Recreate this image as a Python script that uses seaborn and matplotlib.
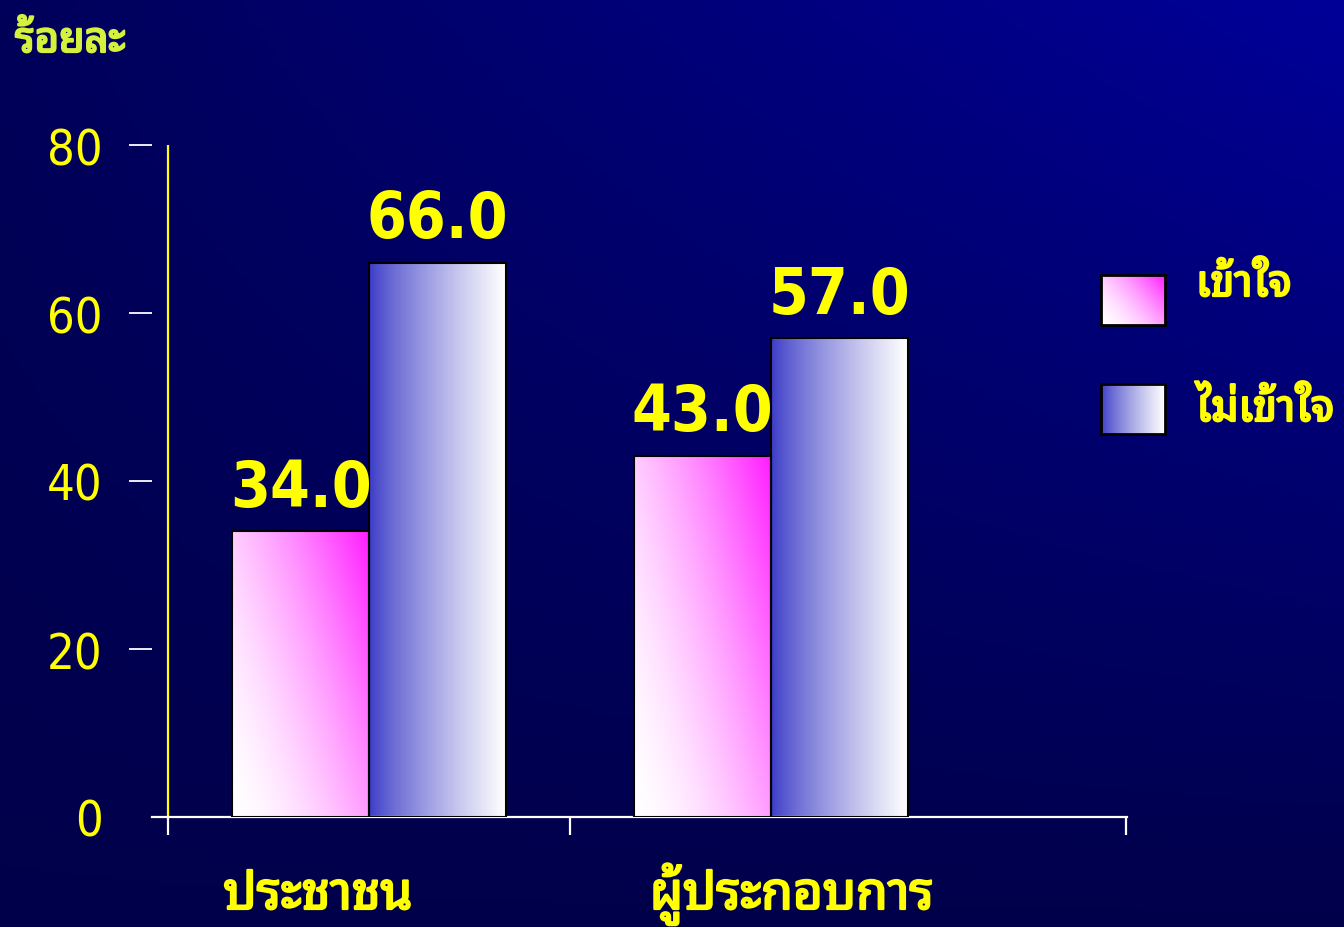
import matplotlib
matplotlib.use("Agg")
import matplotlib.pyplot as plt
import matplotlib.transforms as mtransforms
import matplotlib.patheffects as pe
import seaborn as sns
import pandas as pd
import numpy as np

# data
groups = ["ประชาชน", "ผู้ประกอบการ"]
answers = ["เข้าใจ", "ไม่เข้าใจ"]
understand = [34.0, 43.0]
not_understand = [66.0, 57.0]
y_ticks = [0, 20, 40, 60, 80]
y_title = "ร้อยละ"

df = pd.DataFrame({
    "group": groups * 2,
    "answer": [answers[0]] * 2 + [answers[1]] * 2,
    "pct": understand + not_understand,
})

sns.set_theme(style="white")
thai = ["Noto Sans Thai Looped", "Taviraj", "Sarabun", "DejaVu Sans"]
yellow = "#FFFF00"


def bold_fx(color):
    # the looped Thai face only ships a regular weight here, so thicken it a bit
    return [pe.withStroke(linewidth=1.6, foreground=color)]


def pink_grad(n=80):
    u, v = np.meshgrid(np.linspace(0, 1, n), np.linspace(0, 1, n))
    t = np.clip(0.6 * u + 0.4 * v, 0, 1) ** 1.6
    img = np.ones((n, n, 3))
    img[..., 1] = 1 - 0.88 * t
    return img


def blue_grad(n=80):
    u, v = np.meshgrid(np.linspace(0, 1, n), np.linspace(0, 1, n))
    t = u ** 0.8
    img = np.ones((n, n, 3))
    img[..., 0] = 0.23 + 0.77 * t
    img[..., 1] = 0.23 + 0.77 * t
    img[..., 2] = 0.78 + 0.22 * t
    return img


fig = plt.figure(figsize=(13.44, 9.28), dpi=100)

# background gradient
bg = fig.add_axes([0, 0, 1, 1], zorder=-5)
u, v = np.meshgrid(np.linspace(0, 1, 200), np.linspace(0, 1, 200))
s = 0.8 * u * v + 0.2 * v
bgimg = np.zeros((200, 200, 3))
bgimg[..., 2] = 0.29 + 0.31 * s
bg.imshow(bgimg, origin="lower", aspect="auto", extent=[0, 1, 0, 1])
bg.axis("off")

ax = fig.add_axes([152 / 1344, 110 / 928, 975 / 1344, 672 / 928])
ax.patch.set_alpha(0)

sns.barplot(data=df, x="group", y="pct", hue="answer", order=groups, hue_order=answers,
            width=0.68, dodge=True, legend=False, saturation=1, ax=ax,
            edgecolor="black", linewidth=1.5)

grads = [pink_grad(), blue_grad()]
for cont, g in zip(ax.containers, grads):
    for bar in cont:
        x0, w, h = bar.get_x(), bar.get_width(), bar.get_height()
        bar.set_facecolor("none")
        bar.set_zorder(3)
        ax.imshow(g, origin="lower", aspect="auto", extent=[x0, x0 + w, 0, h], zorder=2)
    ax.bar_label(cont, labels=[f"{b.get_height():.1f}" for b in cont], padding=9,
                 color=yellow, fontsize=46, fontweight="bold", fontstretch="condensed",
                 family="DejaVu Sans", zorder=4)

ax.set_xlim(-0.54, 1.886)
ax.set_ylim(0, 80)
ax.set_xlabel("")
ax.set_ylabel("")

# axes lines
for sp in ["top", "right", "left"]:
    ax.spines[sp].set_visible(False)
ax.spines["bottom"].set_color("white")
ax.spines["bottom"].set_linewidth(1.6)
ax.axvline(-0.5, color=yellow, lw=1.6, zorder=1)

ax.set_yticks(y_ticks)
ax.set_yticklabels([str(t) for t in y_ticks], fontstretch="condensed", family="DejaVu Sans")
ax.tick_params(axis="y", left=True, length=16.5, width=1.3, color="white", pad=19,
               labelsize=35, labelcolor=yellow)
ax.yaxis.get_major_ticks()[0].tick1line.set_visible(False)

ax.set_xticks([])
ax.set_xticks([-0.5, 0.5, 1.884], minor=True)
ax.tick_params(axis="x", which="minor", bottom=True, length=13, width=1.6, color="white",
               direction="out")

# category labels
trans = mtransforms.blended_transform_factory(ax.transData, fig.transFigure)
for xc, name in zip([-0.127, 1.052], groups):
    ax.text(xc, 18 / 928, name, transform=trans, ha="center", va="baseline",
            color=yellow, fontsize=37, fontweight="bold", family=thai,
            path_effects=bold_fx(yellow))

fig.text(15 / 1344, (928 - 53) / 928, y_title, ha="left", va="baseline",
         color="#D4F23C", fontsize=30, fontweight="bold", family=thai,
         path_effects=bold_fx("#D4F23C"))

# legend
leg_y = [(928 - 326) / 928, (928 - 435) / 928]
leg_base = [(928 - 297) / 928, (928 - 422) / 928]
for g, yb, ybase, lab in zip(grads, leg_y, leg_base, answers):
    lax = fig.add_axes([1101 / 1344, yb, 64 / 1344, 50 / 928])
    lax.imshow(g, origin="lower", aspect="auto")
    lax.set_xticks([])
    lax.set_yticks([])
    for sp in lax.spines.values():
        sp.set_color("black")
        sp.set_linewidth(2)
    fig.text(1196 / 1344, ybase, lab, ha="left", va="baseline", color=yellow,
             fontsize=31, fontweight="bold", family=thai, path_effects=bold_fx(yellow))

fig.savefig("out.png", dpi=100)
